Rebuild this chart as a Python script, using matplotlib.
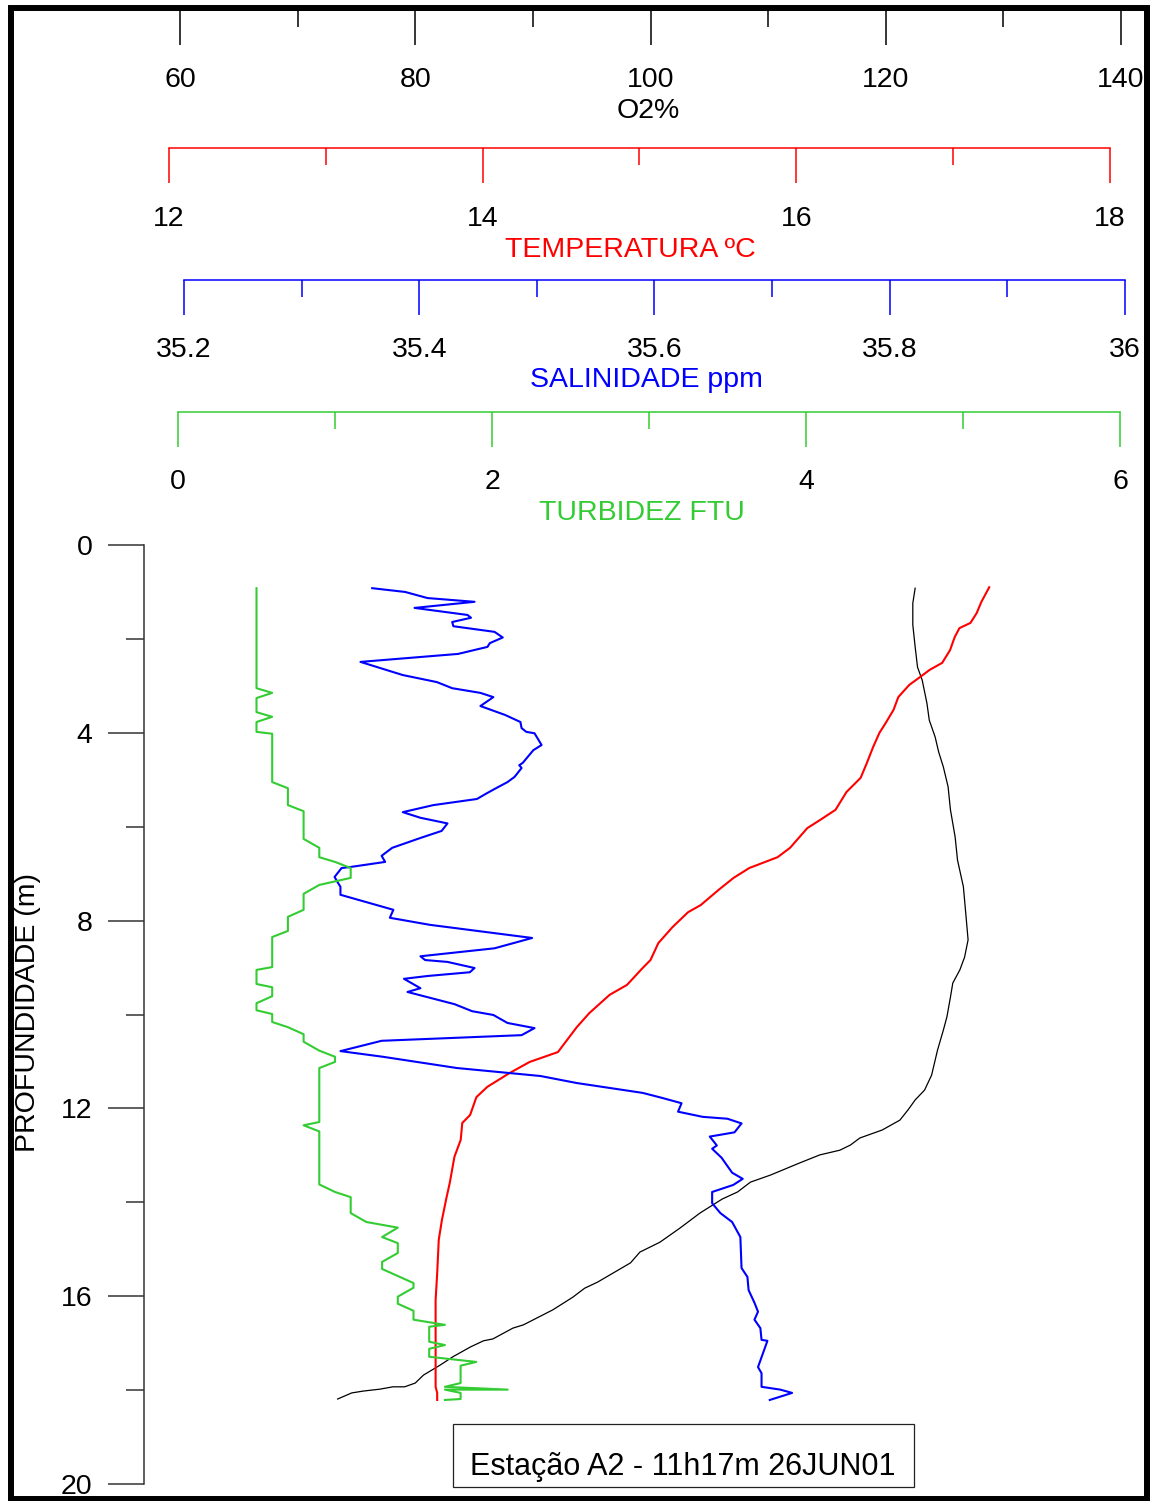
import matplotlib
matplotlib.use("Agg")
import matplotlib.pyplot as plt
from matplotlib.patches import Rectangle
from matplotlib.ticker import MultipleLocator
from matplotlib.transforms import blended_transform_factory

plt.rcParams["font.family"] = ["Liberation Sans", "DejaVu Sans"]

W, H = 1152, 1501
GREEN = "#33cc33"
FS = 20.5

# ---------- profile data (depth in m) ----------
o2_depth = [0.92, 1.24, 1.70, 2.17, 2.60, 2.88, 3.37, 3.73, 4.09, 4.41, 4.73, 5.15,
            5.64, 6.22, 6.71, 7.28, 7.84, 8.41, 8.78, 9.05, 9.33, 9.63, 10.05, 10.33,
            10.76, 11.29, 11.61, 11.82, 12.03, 12.25, 12.46, 12.63, 12.78, 12.89, 12.99,
            13.16, 13.42, 13.57, 13.78, 13.93, 14.23, 14.55, 14.85, 15.06, 15.29, 15.70,
            15.83, 16.02, 16.29, 16.61, 16.68, 16.91, 16.95, 17.08, 17.29, 17.47, 17.68,
            17.85, 17.93, 17.93, 17.98, 18.02, 18.06, 18.19]
o2_pct = [122.5, 122.3, 122.3, 122.5, 122.7, 123.1, 123.5, 123.7, 124.2, 124.5, 124.9,
          125.3, 125.5, 125.9, 126.1, 126.6, 126.8, 127.0, 126.7, 126.3, 125.7, 125.5,
          125.2, 124.9, 124.4, 123.9, 123.3, 122.5, 121.9, 121.2, 119.7, 117.8, 117.0,
          116.1, 114.4, 112.7, 110.2, 108.5, 107.4, 106.1, 104.2, 102.5, 100.8, 99.1,
          98.3, 95.5, 94.4, 93.4, 91.7, 89.2, 88.3, 86.6, 85.8, 84.7, 83.2, 82.1, 80.7,
          80.0, 79.1, 78.1, 77.0, 75.6, 74.6, 73.4]

temp_depth = [0.90, 1.21, 1.45, 1.66, 1.77, 1.96, 2.24, 2.51, 2.66, 2.81, 2.98, 3.24,
              3.51, 3.79, 4.00, 4.30, 4.64, 4.96, 5.26, 5.64, 5.86, 6.03, 6.45, 6.65,
              6.88, 7.09, 7.33, 7.67, 7.82, 8.14, 8.48, 8.84, 9.01, 9.37, 9.58, 9.97,
              10.27, 10.80, 11.01, 11.25, 11.54, 11.76, 12.14, 12.31, 12.67, 13.03,
              13.59, 13.89, 14.38, 14.80, 15.51, 16.08, 16.78, 17.93, 18.06, 18.21]
temp_c = [17.23, 17.18, 17.15, 17.11, 17.04, 17.01, 16.98, 16.93, 16.85, 16.79, 16.72,
          16.65, 16.62, 16.57, 16.53, 16.49, 16.45, 16.41, 16.32, 16.25, 16.15, 16.07,
          15.96, 15.88, 15.70, 15.60, 15.51, 15.39, 15.31, 15.21, 15.12, 15.07, 15.02,
          14.92, 14.81, 14.68, 14.60, 14.48, 14.30, 14.17, 14.03, 13.96, 13.92, 13.87,
          13.86, 13.82, 13.79, 13.77, 13.74, 13.72, 13.71, 13.70, 13.70, 13.70, 13.71,
          13.71]

sal_depth = [0.92, 1.00, 1.13, 1.21, 1.34, 1.49, 1.55, 1.64, 1.73, 1.85, 1.97, 2.09,
             2.17, 2.32, 2.49, 2.77, 2.92, 3.05, 3.15, 3.24, 3.43, 3.62, 3.77, 3.90,
             3.98, 4.01, 4.26, 4.37, 4.58, 4.64, 4.69, 4.75, 4.94, 5.05, 5.17, 5.28,
             5.41, 5.54, 5.69, 5.81, 5.93, 6.09, 6.24, 6.45, 6.62, 6.75, 6.86, 6.88,
             7.07, 7.20, 7.28, 7.45, 7.77, 7.94, 8.09, 8.37, 8.59, 8.76, 8.84, 8.88,
             9.01, 9.10, 9.18, 9.24, 9.44, 9.52, 9.78, 9.93, 10.01, 10.18, 10.29, 10.44,
             10.56, 10.78, 10.90, 11.14, 11.31, 11.46, 11.67, 11.78, 11.89, 12.07, 12.18,
             12.22, 12.32, 12.51, 12.60, 12.79, 12.86, 13.05, 13.37, 13.50, 13.63, 13.78,
             14.02, 14.23, 14.42, 14.74, 15.40, 15.59, 15.87, 16.14, 16.33, 16.50, 16.68,
             16.93, 16.95, 17.51, 17.64, 17.93, 17.99, 18.06, 18.21]
sal_ppm = [35.360, 35.388, 35.407, 35.447, 35.396, 35.441, 35.444, 35.428, 35.429, 35.464,
           35.471, 35.460, 35.458, 35.433, 35.350, 35.386, 35.415, 35.428, 35.452, 35.463,
           35.452, 35.473, 35.486, 35.487, 35.491, 35.498, 35.504, 35.497, 35.490, 35.488,
           35.485, 35.487, 35.481, 35.475, 35.466, 35.458, 35.449, 35.412, 35.386, 35.401,
           35.424, 35.419, 35.401, 35.377, 35.368, 35.371, 35.341, 35.334, 35.328, 35.331,
           35.333, 35.333, 35.378, 35.375, 35.409, 35.496, 35.464, 35.401, 35.405, 35.424,
           35.447, 35.443, 35.407, 35.387, 35.401, 35.390, 35.430, 35.445, 35.463, 35.475,
           35.498, 35.487, 35.368, 35.333, 35.369, 35.432, 35.503, 35.534, 35.590, 35.607,
           35.623, 35.620, 35.641, 35.662, 35.674, 35.668, 35.647, 35.653, 35.649, 35.657,
           35.666, 35.675, 35.667, 35.649, 35.649, 35.656, 35.666, 35.673, 35.674, 35.679,
           35.680, 35.685, 35.688, 35.685, 35.690, 35.691, 35.696, 35.688, 35.691, 35.691,
           35.707, 35.717, 35.698]

turb_depth = [0.92, 3.05, 3.15, 3.26, 3.56, 3.66, 3.77, 3.98, 4.02, 5.05, 5.18, 5.54,
              5.67, 6.26, 6.45, 6.65, 6.75, 6.88, 7.09, 7.24, 7.43, 7.77, 7.92, 8.22,
              8.35, 8.99, 9.05, 9.35, 9.42, 9.61, 9.76, 9.91, 9.99, 10.16, 10.27, 10.42,
              10.58, 10.77, 10.90, 11.01, 11.14, 12.29, 12.36, 12.49, 13.62, 13.78, 13.89,
              14.23, 14.42, 14.54, 14.74, 14.87, 15.08, 15.27, 15.42, 15.72, 15.82, 16.01,
              16.16, 16.31, 16.50, 16.61, 16.65, 16.97, 17.04, 17.12, 17.29, 17.40, 17.48,
              17.85, 17.93, 17.99, 17.99, 18.06, 18.19, 18.21]
turb_ftu = [0.5, 0.5, 0.6, 0.5, 0.5, 0.6, 0.5, 0.5, 0.6, 0.6, 0.7, 0.7,
            0.8, 0.8, 0.9, 0.9, 1.0, 1.1, 1.1, 0.9, 0.8, 0.8, 0.7, 0.7,
            0.6, 0.6, 0.5, 0.5, 0.6, 0.6, 0.5, 0.5, 0.6, 0.6, 0.7, 0.8,
            0.8, 0.9, 1.0, 1.0, 0.9, 0.9, 0.8, 0.9, 0.9, 1.0, 1.1,
            1.1, 1.2, 1.4, 1.3, 1.4, 1.4, 1.3, 1.3, 1.5, 1.5, 1.4,
            1.4, 1.5, 1.5, 1.7, 1.6, 1.6, 1.7, 1.6, 1.6, 1.9, 1.8,
            1.8, 1.7, 2.1, 1.7, 1.8, 1.8, 1.7]

depth_ticks = [0, 4, 8, 12, 16, 20]
o2_ticks = [60, 80, 100, 120, 140]
temp_ticks = [12, 14, 16, 18]
sal_ticks = [35.2, 35.4, 35.6, 35.8, 36.0]
sal_labels = ["35.2", "35.4", "35.6", "35.8", "36"]
turb_ticks = [0, 2, 4, 6]

fig = plt.figure(figsize=(W / 100, H / 100), dpi=100)


def px_box(x0, x1, y_top, y_bot):
    return [x0 / W, 1 - y_bot / H, (x1 - x0) / W, (y_bot - y_top) / H]


# depth axis
ax = fig.add_axes(px_box(144, 1130, 545, 1484))
ax.set_ylim(20, 0)
ax.set_xlim(0, 1)
ax.patch.set_visible(False)
for s in ["top", "right", "bottom"]:
    ax.spines[s].set_visible(False)
ax.spines["left"].set_color("#333333")
ax.spines["left"].set_linewidth(1.1)
ax.set_xticks([])
ax.set_yticks(depth_ticks)
ax.yaxis.set_minor_locator(MultipleLocator(2))
ax.tick_params(axis="y", which="major", length=26, width=1.1, color="#333333",
               pad=11, labelsize=FS)
ax.tick_params(axis="y", which="minor", length=13, width=1.1, color="#333333")
fig.text(28 / W, 1 - 1012 / H, "PROFUNDIDADE (m)", rotation=90, fontsize=FS,
         ha="center", va="center")


# one horizontal scale per variable, ticks hanging below the line
def scale(x0, x1, y_line, lims, ticks, labels, minor, color, title, lab_y, title_x, title_y):
    sa = fig.add_axes(px_box(x0, x1, y_line - 1, y_line))
    sa.set_xlim(*lims)
    sa.set_yticks([])
    sa.patch.set_visible(False)
    for s in ["top", "left", "right"]:
        sa.spines[s].set_visible(False)
    sa.spines["bottom"].set_color(color)
    sa.spines["bottom"].set_linewidth(1.1)
    sa.set_xticks(ticks)
    sa.set_xticklabels([])
    sa.xaxis.set_minor_locator(MultipleLocator(minor))
    sa.tick_params(which="major", direction="out", length=25, width=1.1, color=color)
    sa.tick_params(which="minor", direction="out", length=12.5, width=1.1, color=color)
    tr = blended_transform_factory(sa.transData, fig.transFigure)
    for t, lab in zip(ticks, labels):
        sa.text(t, 1 - (lab_y + 10) / H, lab, transform=tr, ha="center",
                va="baseline", fontsize=FS)
    fig.text(title_x / W, 1 - (title_y + 10) / H, title, color=color, ha="center",
             va="baseline", fontsize=FS)


scale(180, 1121, 10, (60, 140), o2_ticks, [str(t) for t in o2_ticks], 10, "black",
      "O2%", 77, 648, 108)
scale(169, 1110, 148, (12, 18), temp_ticks, [str(t) for t in temp_ticks], 1, "red",
      "TEMPERATURA ºC", 216, 630, 247)
scale(184, 1125, 280, (35.2, 36.0), sal_ticks, sal_labels, 0.1, "blue",
      "SALINIDADE ppm", 347, 646, 377)
scale(178, 1120, 412, (0, 6), turb_ticks, [str(t) for t in turb_ticks], 1, GREEN,
      "TURBIDEZ FTU", 479, 642, 510)


# profile curves, each on its own x scale aligned with its scale bar
def profile(x0, x1, lims, xs, ys, color, lw):
    pa = fig.add_axes(px_box(x0, x1, 545, 1484))
    pa.set_xlim(*lims)
    pa.set_ylim(20, 0)
    pa.axis("off")
    pa.plot(xs, ys, color=color, lw=lw, clip_on=False)


profile(180, 1121, (60, 140), o2_pct, o2_depth, "black", 0.9)
profile(169, 1110, (12, 18), temp_c, temp_depth, "red", 1.5)
profile(184, 1125, (35.2, 36.0), sal_ppm, sal_depth, "blue", 1.5)
profile(178, 1120, (0, 6), turb_ftu, turb_depth, GREEN, 1.5)

# station box
fig.add_artist(Rectangle((453 / W, 1 - 1487 / H), (914 - 453) / W, (1487 - 1424) / H,
                         transform=fig.transFigure, fill=False, ec="#222222", lw=0.9))
fig.text(683 / W, 1 - 1475 / H, "Estação A2 - 11h17m 26JUN01", ha="center",
         va="baseline", fontsize=22)

# outer frame
fig.add_artist(Rectangle((10.5 / W, 1 - 1498.5 / H), (1147 - 10.5) / W, (1498.5 - 8) / H,
                         transform=fig.transFigure, fill=False, ec="black", lw=4.3,
                         zorder=10))

fig.savefig("out.png", dpi=100)
